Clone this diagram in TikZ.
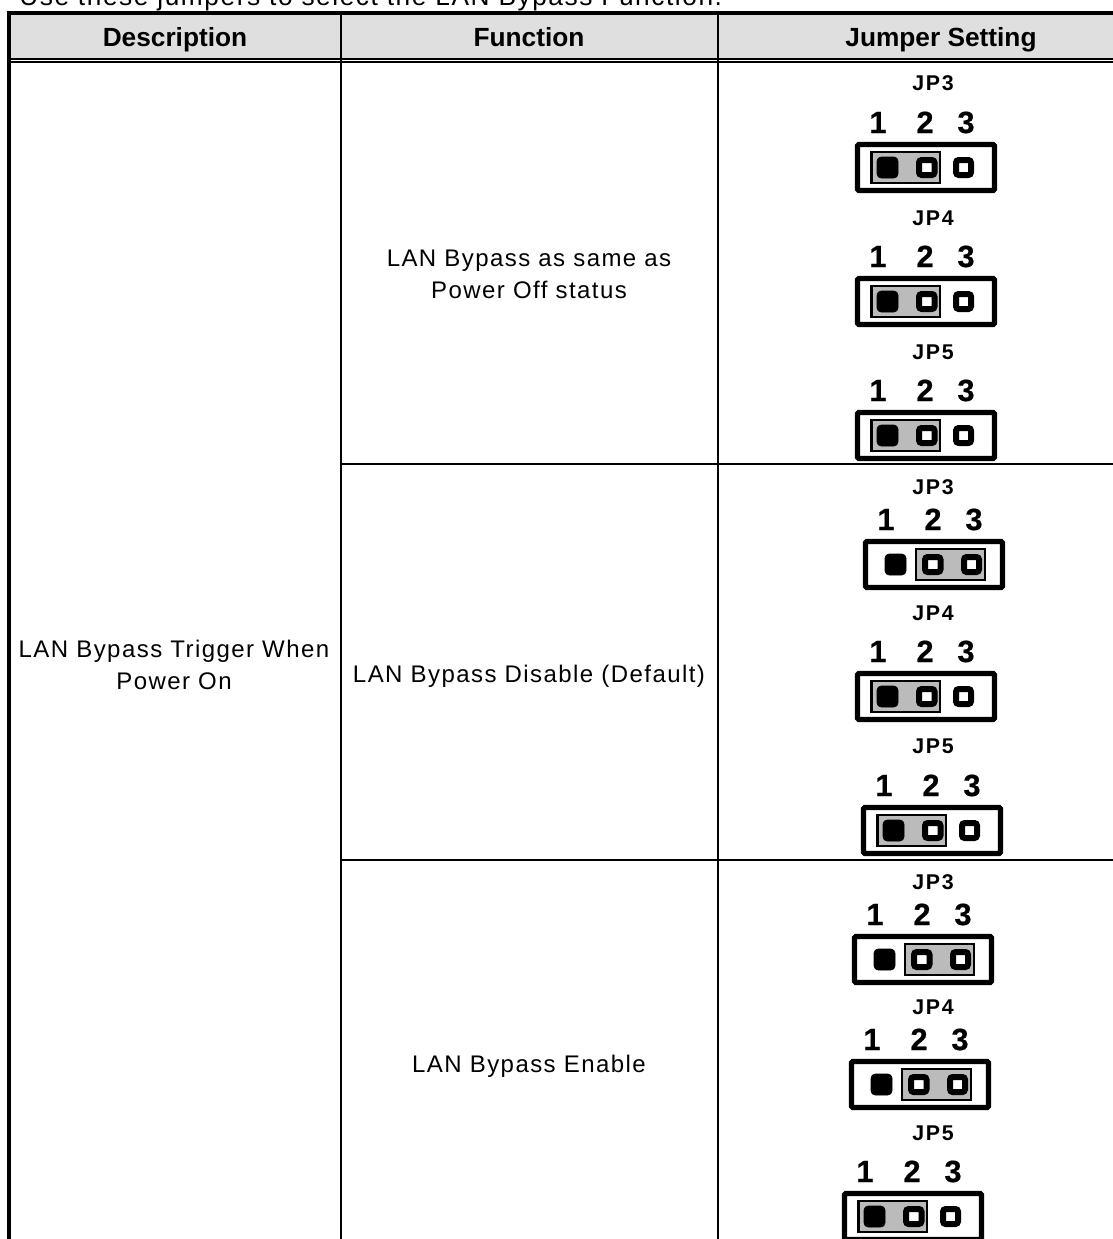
\documentclass[tikz,border=0pt]{standalone}
\usepackage{fontspec}
\setmainfont{Liberation Sans}
\newfontfamily\spacedfont[LetterSpace=6]{Liberation Sans}
\newfontfamily\jpfont[LetterSpace=8]{Liberation Sans Bold}
\newfontfamily\pinfont[FakeBold=0.6]{Liberation Sans Bold}
\usepackage{tikz}
\usetikzlibrary{positioning}

\tikzset{
    tableline/.style={line width=1.4pt},
    thickline/.style={line width=2.8pt},
    bodytext/.style={inner sep=0pt,anchor=base,font=\spacedfont\fontsize{18}{22}\selectfont},
    introtext/.style={inner sep=0pt,anchor=base west,font=\spacedfont\fontsize{19.7}{24}\selectfont},
    headtext/.style={inner sep=0pt,anchor=base,font=\bfseries\fontsize{19.7}{23}\selectfont},
    jptext/.style={inner sep=0pt,font=\jpfont\fontsize{16}{19}\selectfont},
    pintext/.style={inner sep=0pt,anchor=base,font=\pinfont\fontsize{23}{27}\selectfont},
    jpbox/.style={draw,line width=4pt,rounded corners=1pt,fill=white},
    jpcap/.style={draw,line width=1.8pt,fill=capgray},
    jppin/.style={draw,line width=4.5pt,rounded corners=2pt,fill=white},
    jpdot/.style={fill=black,rounded corners=3pt},
}
\definecolor{headgray}{HTML}{DFDFDF}
\definecolor{capgray}{HTML}{BBBBBB}

% #1 name, #2 text, #3,#4 text position, #5,#6 box corner, #7 first pin under the cap
\newcommand{\jumperset}[7]{
    \node (#1label) [jptext] at (#3,#4) {#2};
    \begin{scope}[shift={(#5,#6)}]
        \node (#1one) [pintext] at (23,-9) {1};
        \node (#1two) [pintext] at (70,-9) {2};
        \node (#1three) [pintext] at (111,-9) {3};
        \draw [jpbox] (2.5,2.5) rectangle (139.5,48.5);
        \ifnum#7=1
            \draw [jpcap] (16.5,10) rectangle (85,41);
            \draw [jppin] (64,18) rectangle (79.5,33);
        \else
            \draw [jpcap] (53,10) rectangle (122,41);
            \draw [jppin] (62,18) rectangle (77.5,33);
        \fi
        \draw [jpdot] (22,15) rectangle (43,36);
        \draw [jppin] (101,18) rectangle (116,33);
    \end{scope}
}

\begin{document}
\begin{tikzpicture}[x=0.75pt,y=0.75pt,yscale=-1,xscale=1]
    \useasboundingbox (0,0) rectangle (1113,1239);

    %Shape: Header [id:headerfill]
    \fill [headgray] (9,13) rectangle (1113,59);
    %Straight Lines [id:tablelines]
    \draw [thickline] (1113,13) -- (9,13) -- (9,1239);
    \draw [line width=1.6pt] (9,59.3) -- (1113,59.3);
    \draw [line width=0.8pt] (9,62) -- (1113,62);
    \draw [tableline] (341,13) -- (341,1239);
    \draw [tableline] (718,13) -- (718,1239);
    \draw [tableline] (341,464) -- (1113,464);
    \draw [tableline] (341,860) -- (1113,860);

    % Text Node
    \node (intro) [introtext] at (19,5) {Use these jumpers to select the LAN Bypass Function.};
    % Text Node
    \node (description) [headtext] at (175,46) {Description};
    \node (function) [headtext] at (529,46) {Function};
    \node (setting) [headtext] at (941,46) {Jumper Setting};
    % Text Node
    \node (trigger) [bodytext] at (174,657) {LAN Bypass Trigger When};
    \node (poweron) [bodytext] at (174,689) {Power On};
    \node (sameas) [bodytext] at (529,266) {LAN Bypass as same as};
    \node (poweroff) [bodytext] at (529,298) {Power Off status};
    \node (disable) [bodytext] at (529,682) {LAN Bypass Disable (Default)};
    \node (enable) [bodytext] at (529,1072) {LAN Bypass Enable};

    %Jumpers, power off row
    \jumperset{offa}{JP3}{933}{83}{855}{142}{1}
    \jumperset{offb}{JP4}{933}{218}{855}{276}{1}
    \jumperset{offc}{JP5}{933}{352}{855}{410}{1}
    %Jumpers, disable row
    \jumperset{disa}{JP3}{933}{487}{863}{539}{2}
    \jumperset{disb}{JP4}{933}{613}{855}{671}{1}
    \jumperset{disc}{JP5}{933}{746}{861}{805}{1}
    %Jumpers, enable row
    \jumperset{ena}{JP3}{933}{882}{852}{934}{2}
    \jumperset{enb}{JP4}{933}{1007}{849}{1059}{2}
    \jumperset{enc}{JP5}{933}{1133}{842}{1191}{1}
\end{tikzpicture}
\end{document}
